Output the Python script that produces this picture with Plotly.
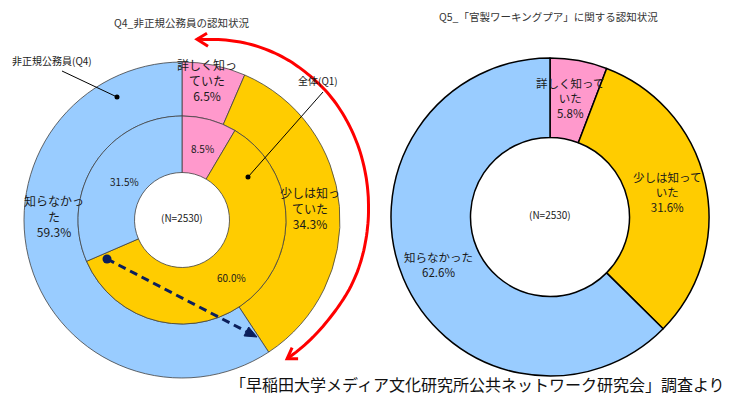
import numpy as np
import plotly.graph_objects as go

# ---------------- data ----------------
categories = ["詳しく知っていた", "少しは知っていた", "知らなかった"]
q4_values = [6.5, 34.3, 59.3]   # 非正規公務員 (outer ring)
q1_values = [8.5, 60.0, 31.5]   # 全体 (inner ring)
q5_values = [5.8, 31.6, 62.6]   # 官製ワーキングプア
sample_n = 2530

title_left = "Q4_非正規公務員の認知状況"
title_right = "Q5_「官製ワーキングプア」に関する認知状況"
label_outer = "非正規公務員(Q4)"
label_inner = "全体(Q1)"
caption = "「早稲田大学メディア文化研究所公共ネットワーク研究会」調査より"

colors = ["#FF99CC", "#FFCC00", "#99CCFF"]

# ---------------- layout helpers ----------------
W, H = 730, 395
FONT = "Noto Sans CJK JP, Noto Sans, sans-serif"


def dom(cx, cy, r):
    return dict(x=[(cx - r) / W, (cx + r) / W],
                y=[(H - cy - r) / H, (H - cy + r) / H])


fig = go.Figure()
# empty cartesian trace so that pixel-space axes exist for shapes/annotations
fig.add_trace(go.Scatter(x=[None], y=[None], showlegend=False, hoverinfo="skip"))

pie_common = dict(sort=False, direction="clockwise", rotation=0,
                  textinfo="none", hoverinfo="label+percent", showlegend=False)

# left chart: outer ring (Q4) and inner ring (Q1)
fig.add_trace(go.Pie(labels=categories, values=q4_values, hole=104 / 158,
                     domain=dom(182, 220, 158),
                     marker=dict(colors=colors, line=dict(color="#404040", width=0.8)),
                     **pie_common))
fig.add_trace(go.Pie(labels=categories, values=q1_values, hole=47.5 / 104,
                     domain=dom(182, 220, 104),
                     marker=dict(colors=colors, line=dict(color="#404040", width=0.8)),
                     **pie_common))
# right chart (Q5)
fig.add_trace(go.Pie(labels=categories, values=q5_values, hole=0.5,
                     domain=dom(550, 217, 159),
                     marker=dict(colors=colors, line=dict(color="#000000", width=1.5)),
                     **pie_common))

ann = []


def text(x, y, s, size=11, color="#1a1a1a", **kw):
    ann.append(dict(x=x, y=y, xref="x", yref="y", text=s, showarrow=False,
                    font=dict(family=FONT, size=size, color=color),
                    xanchor=kw.get("xanchor", "center"), yanchor="middle", align="center"))


def wrap(label, n):
    return label[:n] + "<br>" + label[n:] if n < len(label) else label


def pct(v):
    return f"{v:.1f}%"


# titles
text(181, 22, title_left, 10.5, "#333333")
text(548, 16, title_right, 10.5, "#333333")

# left outer ring labels
text(207, 80, wrap(categories[0], 5) + "<br>" + pct(q4_values[0]), 12)
text(310, 208, wrap(categories[1], 5) + "<br>" + pct(q4_values[1]), 12)
text(54, 216, wrap(categories[2], 5) + "<br>" + pct(q4_values[2]), 12)
# left inner ring labels
text(202, 148, pct(q1_values[0]), 10)
text(231, 277, pct(q1_values[1]), 10)
text(124, 181, pct(q1_values[2]), 10)
text(182, 217, f"(N={sample_n})", 10)

# right labels
text(570, 98, wrap(categories[0], 6) + "<br>" + pct(q5_values[0]), 11.5)
text(667, 192, wrap(categories[1], 6) + "<br>" + pct(q5_values[1]), 11.5)
text(438, 264, categories[2] + "<br>" + pct(q5_values[2]), 11.5)
text(550, 214, f"(N={sample_n})", 10)

# leader labels
text(52, 60, label_outer, 10)
text(318, 80, label_inner, 10)

# caption
text(477, 384, caption, 16, "#111111")

shapes = []
# leader lines with dots
shapes.append(dict(type="line", x0=62, y0=71, x1=117, y1=97, xref="x", yref="y",
                   line=dict(color="#000000", width=1)))
shapes.append(dict(type="circle", x0=114.5, y0=94.5, x1=119.5, y1=99.5, xref="x", yref="y",
                   fillcolor="#000000", line=dict(width=0)))
shapes.append(dict(type="line", x0=323, y0=92, x1=248, y1=177, xref="x", yref="y",
                   line=dict(color="#000000", width=1)))
shapes.append(dict(type="circle", x0=245.5, y0=174.5, x1=250.5, y1=179.5, xref="x", yref="y",
                   fillcolor="#000000", line=dict(width=0)))

# red curved arrow: smooth polar curve around a centre (decoration)
acx, acy = 183, 210
key_ang = [4.7, 22, 34, 53, 70, 90, 111, 127, 145]
key_r = [170.6, 179, 183, 186.5, 186.5, 185.5, 185, 182, 181.5]
ang = np.linspace(key_ang[0], key_ang[-1], 120)
rr = np.interp(ang, key_ang, key_r)
# light smoothing of the radius profile
k = np.ones(9) / 9
rr_s = np.convolve(np.pad(rr, 4, mode="edge"), k, mode="valid")
xs = acx + rr_s * np.sin(np.radians(ang))
ys = acy - rr_s * np.cos(np.radians(ang))
path = "M " + " L ".join(f"{x:.1f},{y:.1f}" for x, y in zip(xs, ys))
shapes.append(dict(type="path", path=path, xref="x", yref="y",
                   line=dict(color="#FF0000", width=3)))
x0a, y0a = xs[0], ys[0]
shapes.append(dict(type="path",
                   path=f"M {x0a + 10:.1f},{y0a - 6:.1f} L {x0a:.1f},{y0a:.1f} L {x0a + 11:.1f},{y0a + 7:.1f}",
                   xref="x", yref="y", line=dict(color="#FF0000", width=3)))
x1a, y1a = xs[-1], ys[-1]
shapes.append(dict(type="path",
                   path=f"M {x1a + 11:.1f},{y1a:.1f} L {x1a:.1f},{y1a:.1f} L {x1a + 5:.1f},{y1a - 11:.1f}",
                   xref="x", yref="y", line=dict(color="#FF0000", width=3)))

# navy dashed arrow
sx, sy, tx, ty = 107, 259, 257, 337
dx, dy = tx - sx, ty - sy
L = (dx * dx + dy * dy) ** 0.5
ux, uy = dx / L, dy / L
bx, by = tx - 12 * ux, ty - 12 * uy
px_, py_ = -uy * 5, ux * 5
shapes.append(dict(type="line", x0=sx, y0=sy, x1=bx, y1=by, xref="x", yref="y",
                   line=dict(color="#0B1F5C", width=3, dash="8px,5px")))
shapes.append(dict(type="path",
                   path=f"M {tx},{ty} L {bx + px_:.1f},{by + py_:.1f} L {bx - px_:.1f},{by - py_:.1f} Z",
                   xref="x", yref="y", fillcolor="#0B1F5C", line=dict(color="#0B1F5C", width=1)))
shapes.append(dict(type="circle", x0=sx - 4.5, y0=sy - 4.5, x1=sx + 4.5, y1=sy + 4.5,
                   xref="x", yref="y", fillcolor="#0B1F5C", line=dict(width=0)))

for s in shapes:
    s["layer"] = "above"

fig.update_layout(
    width=W, height=H,
    margin=dict(l=0, r=0, t=0, b=0),
    paper_bgcolor="white", plot_bgcolor="rgba(0,0,0,0)",
    xaxis=dict(range=[0, W], visible=False, fixedrange=True, domain=[0, 1]),
    yaxis=dict(range=[H, 0], visible=False, fixedrange=True, domain=[0, 1]),
    annotations=ann, shapes=shapes,
    font=dict(family=FONT),
)

fig.write_html("out.html", config={"displayModeBar": False})
